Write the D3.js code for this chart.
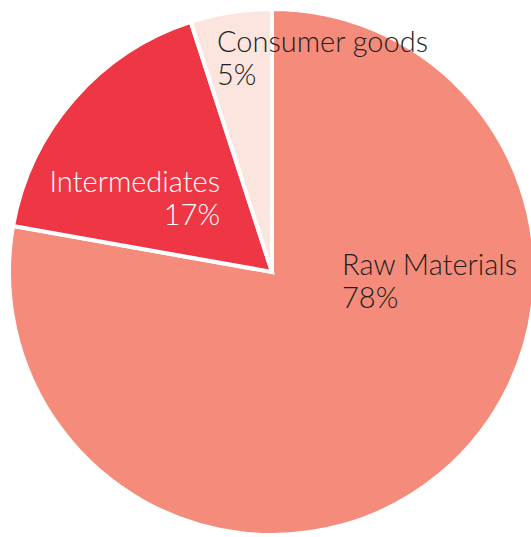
<!DOCTYPE html>
<html><head><meta charset="utf-8">
<script src="https://cdn.jsdelivr.net/npm/d3@7"></script>
<style>html,body{margin:0;padding:0;background:#fff;}svg{display:block;}</style>
</head><body>
<script>
const categories = ["Raw Materials", "Intermediates", "Consumer goods"];
const values = [77.8, 17.2, 5.0];
const colors = ["#F48B7B", "#EE3644", "#FCE4DF"];
const textColors = ["#231F20", "#FFFFFF", "#231F20"];

const W = 531, H = 537, cx = 272, cy = 272, R = 263;
const svg = d3.select("body").append("svg").attr("width", W).attr("height", H);
const g = svg.append("g").attr("transform", `translate(${cx},${cy})`);

const pie = d3.pie().sort(null).value(d => d);
const arcs = pie(values);
const arc = d3.arc().innerRadius(0).outerRadius(R);

g.selectAll("path").data(arcs).join("path")
  .attr("d", arc)
  .attr("fill", (d, i) => colors[i])
  .attr("stroke", "#fff").attr("stroke-width", 4).attr("stroke-linejoin", "miter");

// label placement (anchor, offset from centre)
const labelPos = [
  {x: 70, y: 3, anchor: "start"},
  {x: -52, y: -80, anchor: "end"},
  {x: -55, y: -220, anchor: "start"}
];
arcs.forEach((d, i) => {
  const p = labelPos[i];
  const t = g.append("text")
    .attr("x", p.x).attr("y", p.y)
    .attr("text-anchor", p.anchor)
    .attr("fill", textColors[i])
    .style("font-family", "Lato, sans-serif")
    .style("font-weight", 300)
    .style("font-size", "29px");
  t.append("tspan").attr("x", p.x).text(categories[i]);
  t.append("tspan").attr("x", p.x).attr("dy", 32.5).text(Math.round(values[i]) + "%");
});
</script>
</body></html>
